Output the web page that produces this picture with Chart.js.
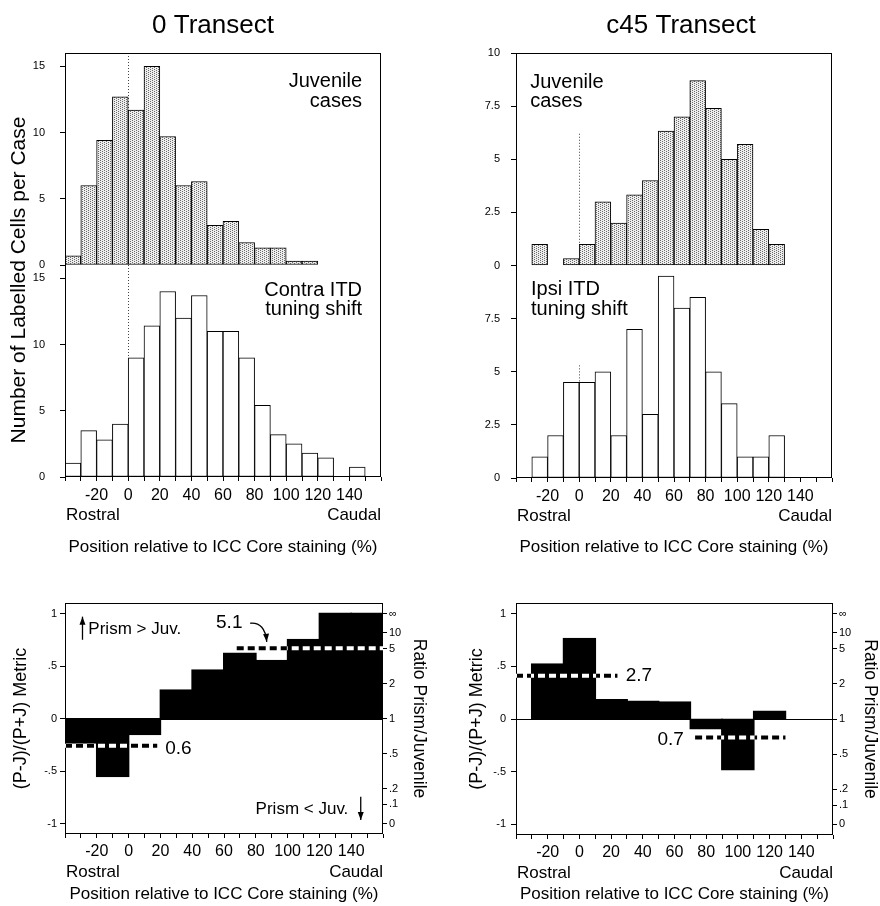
<!DOCTYPE html>
<html>
<head>
<meta charset="utf-8">
<script src="https://cdn.jsdelivr.net/npm/chart.js@4.4.1/dist/chart.umd.min.js"></script>
<style>
  body { margin: 0; background: #fff; }
  #wrap { position: relative; width: 880px; height: 906px; }
  canvas { position: absolute; }
</style>
</head>
<body>
<div id="wrap">
  <canvas id="col0"></canvas>
  <canvas id="col45"></canvas>
  <canvas id="met0"></canvas>
  <canvas id="met45"></canvas>
</div>
<script>
// histogram bins, 10 % wide, from -40 to 160 (bin centres)
const histBins = [-35, -25, -15, -5, 5, 15, 25, 35, 45, 55, 65, 75, 85, 95, 105, 115, 125, 135, 145, 155];

// labelled cells per case
const juvenile0 = [0.7, 6.0, 9.4, 12.7, 11.7, 15.0, 9.7, 6.0, 6.3, 3.0, 3.3, 1.7, 1.3, 1.3, 0.3, 0.3, null, null, null, null];
const contra0 = [1.05, 3.5, 2.8, 4.0, 9.0, 11.4, 14.0, 12.0, 13.7, 11.0, 11.0, 9.0, 5.4, 3.2, 2.5, 1.8, 1.45, null, 0.75, null];
const juvenile45 = [null, 1.0, null, 0.33, 1.0, 3.0, 2.0, 3.33, 4.0, 6.33, 7.0, 8.7, 7.4, 5.0, 5.7, 1.7, 1.0, null, null, null];
const ipsi45 = [null, 1.0, 2.0, 4.5, 4.5, 5.0, 2.0, 7.0, 3.0, 9.5, 8.0, 8.5, 5.0, 3.5, 1.0, 1.0, 2.0, null, null, null];

// (P-J)/(P+J) metric, 20 % bins
const metricBins0 = [-30, -10, 10, 30, 50, 70, 90, 110, 130, 150];
const metric0 = [-0.23, -0.55, -0.15, 0.27, 0.46, 0.62, 0.55, 0.75, 1.0, 1.0];
const metricBins45 = [-20, 0, 20, 40, 60, 80, 100, 120];
const metric45 = [0.52, 0.76, 0.18, 0.165, 0.16, -0.09, -0.48, 0.07];

// mean ratio lines (metric value, start, end) and their labels
const meanRatio0 = ['0.6', '5.1'];
const meanY0 = [-0.26, 0.67];
const meanFrom0 = [-40, 68];
const meanTo0 = [18, 160];
const meanRatio45 = ['2.7', '0.7'];
const meanY45 = [0.41, -0.176];
const meanFrom45 = [-40, 73];
const meanTo45 = [24, 130];

// ticks
const xTickLabels = [-20, 0, 20, 40, 60, 80, 100, 120, 140];
const countTicks0 = [0, 5, 10, 15];
const countTicks45Top = [0, 2.5, 5, 7.5, 10];
const countTicks45Mid = [0, 2.5, 5, 7.5];
const metricTicks = [-1, -0.5, 0, 0.5, 1];
const metricTickLabels = ['-1', '-.5', '0', '.5', '1'];
const ratioTicks = [0, 0.1, 0.2, 0.5, 1, 2, 5, 10, Infinity];
const ratioLabels = ['0', '.1', '.2', '.5', '1', '2', '5', '10', '\u221e'];

// top of the dotted 0 % marker in each histogram panel (top, mid)
const zeroMark0 = [16, 16];
const zeroMark45 = [6.2, 5.3];

const TICK_STEP = 10;
const METRIC_BIN = 20;
const FONT = '"Liberation Sans", Arial, Helvetica, sans-serif';

Chart.defaults.font.family = FONT;
Chart.defaults.color = '#000';

function pairs(xs, ys) {
  return xs.map((x, i) => ({ x: x, y: ys[i] }));
}

function stipple() {
  const c = document.createElement('canvas');
  c.width = 4; c.height = 4;
  const g = c.getContext('2d');
  g.fillStyle = '#eeeeee';
  g.fillRect(0, 0, 4, 4);
  g.fillStyle = '#6a6a6a';
  [[0, 0], [2, 1], [0, 2], [2, 3]].forEach(p => g.fillRect(p[0], p[1], 1, 1));
  return g.createPattern(c, 'repeat');
}

function ratioToMetric(r) {
  return r === Infinity ? 1 : (r - 1) / (r + 1);
}

const figurePlugin = {
  id: 'figure',
  beforeDraw(chart) {
    const ctx = chart.ctx;
    ctx.save();
    ctx.fillStyle = '#fff';
    ctx.fillRect(0, 0, chart.width, chart.height);
    ctx.restore();
  },
  beforeDatasetsDraw(chart, args, o) {
    const { ctx, scales } = chart;
    ctx.save();
    ctx.strokeStyle = '#444';
    ctx.lineWidth = 1;
    ctx.setLineDash([1, 2]);
    (o.zeroMarks || []).forEach(m => {
      const ys = scales[m.axis];
      const x = Math.round(scales.x.getPixelForValue(0)) + 0.5;
      ctx.beginPath();
      ctx.moveTo(x, ys.getPixelForValue(m.top));
      ctx.lineTo(x, ys.getPixelForValue(0));
      ctx.stroke();
    });
    ctx.restore();
  },
  afterDatasetsDraw(chart, args, o) {
    const { ctx, chartArea: a, scales } = chart;
    const X = v => scales.x.getPixelForValue(v);
    ctx.save();
    ctx.strokeStyle = '#000';
    ctx.fillStyle = '#000';
    ctx.lineWidth = 1;
    ctx.strokeRect(Math.round(a.left) + 0.5, Math.round(a.top) + 0.5,
      Math.round(a.right - a.left) - 1, Math.round(a.bottom - a.top) - 1);
    if (o.split) {
      const y = Math.round(scales[o.split].top) + 0.5;
      ctx.beginPath(); ctx.moveTo(a.left, y); ctx.lineTo(a.right, y); ctx.stroke();
    }
    if (o.zeroLine) {
      const y = Math.round(scales.y.getPixelForValue(0)) + 0.5;
      ctx.beginPath(); ctx.moveTo(a.left, y); ctx.lineTo(a.right, y); ctx.stroke();
    }
    // dashed mean lines: black on white, white on black
    if (o.means) {
      ctx.save();
      ctx.globalCompositeOperation = 'difference';
      ctx.strokeStyle = '#fff';
      ctx.lineWidth = 4;
      ctx.setLineDash([7, 4]);
      o.means.y.forEach((v, i) => {
        const y = scales.y.getPixelForValue(v);
        ctx.beginPath();
        ctx.moveTo(X(o.means.from[i]), y);
        ctx.lineTo(X(o.means.to[i]), y);
        ctx.stroke();
      });
      ctx.restore();
    }
    (o.texts || []).forEach(t => {
      ctx.font = (t.size || 20) + 'px ' + FONT;
      ctx.textAlign = t.align || 'left';
      ctx.textBaseline = t.baseline || 'alphabetic';
      ctx.fillText(t.text, X(t.x), scales[t.axis || 'y'].getPixelForValue(t.y));
    });
    (o.arrows || []).forEach(r => {
      const Y = v => scales.y.getPixelForValue(v);
      const x0 = X(r.from[0]), y0 = Y(r.from[1]), x1 = X(r.to[0]), y1 = Y(r.to[1]);
      let ang;
      ctx.lineWidth = 1.3;
      ctx.beginPath();
      ctx.moveTo(x0, y0);
      if (r.via) {
        const cx = X(r.via[0]), cy = Y(r.via[1]);
        ctx.quadraticCurveTo(cx, cy, x1, y1);
        ang = Math.atan2(y1 - cy, x1 - cx);
      } else {
        ctx.lineTo(x1, y1);
        ang = Math.atan2(y1 - y0, x1 - x0);
      }
      ctx.stroke();
      const L = 8, W = 3;
      ctx.beginPath();
      ctx.moveTo(x1, y1);
      ctx.lineTo(x1 - L * Math.cos(ang) + W * Math.sin(ang), y1 - L * Math.sin(ang) - W * Math.cos(ang));
      ctx.lineTo(x1 - L * Math.cos(ang) - W * Math.sin(ang), y1 - L * Math.sin(ang) + W * Math.cos(ang));
      ctx.closePath();
      ctx.fill();
    });
    ctx.restore();
  },
  afterDraw(chart, args, o) {
    const { ctx, chartArea: a } = chart;
    ctx.save();
    ctx.fillStyle = '#000';
    if (o.title) {
      ctx.font = '26px ' + FONT;
      ctx.textAlign = 'center';
      ctx.textBaseline = 'alphabetic';
      ctx.fillText(o.title, (a.left + a.right) / 2 + o.titleShift, a.top - 20);
    }
    if (o.sideTitle) {
      ctx.save();
      ctx.font = '21px ' + FONT;
      ctx.translate(a.left - 46, a.top + 227);
      ctx.rotate(-Math.PI / 2);
      ctx.textAlign = 'center';
      ctx.textBaseline = 'middle';
      ctx.fillText(o.sideTitle, 0, 0);
      ctx.restore();
    }
    ctx.font = '17px ' + FONT;
    ctx.textBaseline = 'alphabetic';
    ctx.textAlign = 'left';
    ctx.fillText('Rostral', a.left + 1, a.bottom + 43);
    ctx.textAlign = 'right';
    ctx.fillText('Caudal', a.right, a.bottom + 43);
    ctx.restore();
  }
};

function positionAxis(height, labelPad, titlePad) {
  return {
    type: 'linear', position: 'bottom', min: -40, max: 160, offset: false,
    ticks: {
      stepSize: TICK_STEP, autoSkip: false, maxRotation: 0, minRotation: 0,
      padding: labelPad, font: { size: 16 },
      callback: v => xTickLabels.includes(v) ? String(v) : ''
    },
    grid: { drawOnChartArea: false, offset: false, tickLength: 4, color: '#000' },
    border: { display: false },
    title: {
      display: true, text: 'Position relative to ICC Core staining (%)',
      font: { size: 17 }, padding: { top: 0, bottom: titlePad }
    },
    afterFit: s => { s.height = height; }
  };
}

function countAxis(max, ticks, width, pad) {
  return {
    type: 'linear', position: 'left', stack: 'hist', stackWeight: 1,
    min: 0, max: max,
    afterBuildTicks: s => { s.ticks = ticks.map(v => ({ value: v })); },
    ticks: { font: { size: 11 }, padding: pad, callback: v => String(v) },
    grid: { drawOnChartArea: false, tickLength: 5, color: '#000' },
    border: { display: false },
    afterFit: s => { s.width = width; }
  };
}

const barStyle = {
  borderColor: '#000', borderWidth: 1, borderSkipped: false,
  grouped: false, barPercentage: 1, categoryPercentage: 1
};

function histChart(id, c) {
  const el = document.getElementById(id);
  el.width = 440; el.height = 565;
  el.style.left = c.left + 'px'; el.style.top = '0px';
  return new Chart(el, {
    type: 'bar',
    data: {
      datasets: [
        Object.assign({ data: pairs(histBins, c.mid), yAxisID: 'yMid', backgroundColor: '#fff' }, barStyle),
        Object.assign({ data: pairs(histBins, c.top), yAxisID: 'yTop', backgroundColor: stipple() }, barStyle)
      ]
    },
    options: {
      responsive: false, animation: false, events: [],
      layout: { padding: { left: 0, top: 53, right: c.right, bottom: 0 } },
      plugins: {
        legend: { display: false }, tooltip: { enabled: false },
        figure: {
          title: c.title, titleShift: c.titleShift, sideTitle: c.sideTitle,
          split: 'yTop',
          zeroMarks: [{ axis: 'yTop', top: c.zeroMark[0] }, { axis: 'yMid', top: c.zeroMark[1] }],
          texts: c.texts
        }
      },
      scales: {
        x: positionAxis(c.xHeight, 5, 7),
        yMid: countAxis(c.maxMid, c.ticksMid, c.yWidth, c.yPad),
        yTop: countAxis(c.maxTop, c.ticksTop, c.yWidth, c.yPad)
      }
    },
    plugins: [figurePlugin]
  });
}

function metricChart(id, c) {
  const el = document.getElementById(id);
  el.width = 440; el.height = 326;
  el.style.left = c.left + 'px'; el.style.top = '580px';
  return new Chart(el, {
    type: 'bar',
    data: {
      datasets: [{
        data: pairs(c.bins, c.values), backgroundColor: '#000',
        borderColor: '#000', borderWidth: 1, borderSkipped: false, inflateAmount: 1,
        grouped: false, barPercentage: 1, categoryPercentage: METRIC_BIN / TICK_STEP
      }]
    },
    options: {
      responsive: false, animation: false, events: [],
      layout: { padding: { left: 0, top: 23, right: 0, bottom: 0 } },
      plugins: {
        legend: { display: false }, tooltip: { enabled: false },
        figure: { zeroLine: true, means: c.means, texts: c.texts, arrows: c.arrows }
      },
      scales: {
        x: positionAxis(c.xHeight, 4, 1),
        y: {
          type: 'linear', position: 'left', min: -1.1, max: 1.1,
          afterBuildTicks: s => { s.ticks = metricTicks.map(v => ({ value: v })); },
          ticks: { font: { size: 11 }, padding: c.yPad, callback: (v, i) => metricTickLabels[i] },
          grid: { drawOnChartArea: false, tickLength: 5, color: '#000' },
          border: { display: false },
          title: { display: true, text: '(P-J)/(P+J) Metric', font: { size: 18 }, padding: { top: c.yTitlePad, bottom: 0 } },
          afterFit: s => { s.width = c.yWidth; }
        },
        y2: {
          type: 'linear', position: 'right', min: -1.1, max: 1.1,
          afterBuildTicks: s => { s.ticks = ratioTicks.map(r => ({ value: ratioToMetric(r) })); },
          ticks: { font: { size: 11 }, padding: 2, callback: (v, i) => ratioLabels[i] },
          grid: { drawOnChartArea: false, tickLength: 4, color: '#000' },
          border: { display: false },
          title: { display: true, text: 'Ratio Prism/Juvenile', font: { size: 17.5 }, padding: { top: c.y2TitlePad, bottom: 0 } },
          afterFit: s => { s.width = c.y2Width; }
        }
      }
    },
    plugins: [figurePlugin]
  });
}

histChart('col0', {
  left: 0, right: 59, yWidth: 65, yPad: 15, xHeight: 88,
  title: '0 Transect', titleShift: -10,
  sideTitle: 'Number of Labelled Cells per Case',
  top: juvenile0, mid: contra0, maxTop: 16, maxMid: 16,
  ticksTop: countTicks0, ticksMid: countTicks0, zeroMark: zeroMark0,
  texts: [
    { text: 'Juvenile', x: 148, y: 13.4, axis: 'yTop', align: 'right' },
    { text: 'cases', x: 148, y: 11.94, axis: 'yTop', align: 'right' },
    { text: 'Contra ITD', x: 148, y: 13.66, axis: 'yMid', align: 'right' },
    { text: 'tuning shift', x: 148, y: 12.23, axis: 'yMid', align: 'right' }
  ]
});

histChart('col45', {
  left: 440, right: 48, yWidth: 76, yPad: 11, xHeight: 87,
  title: 'c45 Transect', titleShift: 7,
  top: juvenile45, mid: ipsi45, maxTop: 10, maxMid: 10,
  ticksTop: countTicks45Top, ticksMid: countTicks45Mid, zeroMark: zeroMark45,
  texts: [
    { text: 'Juvenile', x: -31, y: 8.37, axis: 'yTop' },
    { text: 'cases', x: -31, y: 7.45, axis: 'yTop' },
    { text: 'Ipsi ITD', x: -30.5, y: 8.59, axis: 'yMid' },
    { text: 'tuning shift', x: -30.5, y: 7.65, axis: 'yMid' }
  ]
});

metricChart('met0', {
  left: 0, yWidth: 65, yPad: 3, yTitlePad: 10, y2Width: 57, y2TitlePad: 10.5, xHeight: 72,
  bins: metricBins0, values: metric0,
  means: { y: meanY0, from: meanFrom0, to: meanTo0 },
  texts: [
    { text: meanRatio0[0], x: 23, y: -0.29, size: 19, baseline: 'middle' },
    { text: meanRatio0[1], x: 55, y: 0.907, size: 19, baseline: 'middle' },
    { text: 'Prism > Juv.', x: -25.3, y: 0.85, size: 17, baseline: 'middle' },
    { text: 'Prism < Juv.', x: 138.2, y: -0.865, size: 17, baseline: 'middle', align: 'right' }
  ],
  arrows: [
    { from: [-29, 0.75], to: [-29, 0.97] },
    { from: [146, -0.745], to: [146, -0.967] },
    { from: [76.5, 0.907], via: [85.8, 0.92], to: [86.9, 0.73] }
  ]
});

metricChart('met45', {
  left: 440, yWidth: 76, yPad: 5, yTitlePad: 26, y2Width: 47, y2TitlePad: 0, xHeight: 71,
  bins: metricBins45, values: metric45,
  means: { y: meanY45, from: meanFrom45, to: meanTo45 },
  texts: [
    { text: meanRatio45[0], x: 29.2, y: 0.41, size: 19, baseline: 'middle' },
    { text: meanRatio45[1], x: 49.2, y: -0.2, size: 19, baseline: 'middle' }
  ]
});
</script>
</body>
</html>
